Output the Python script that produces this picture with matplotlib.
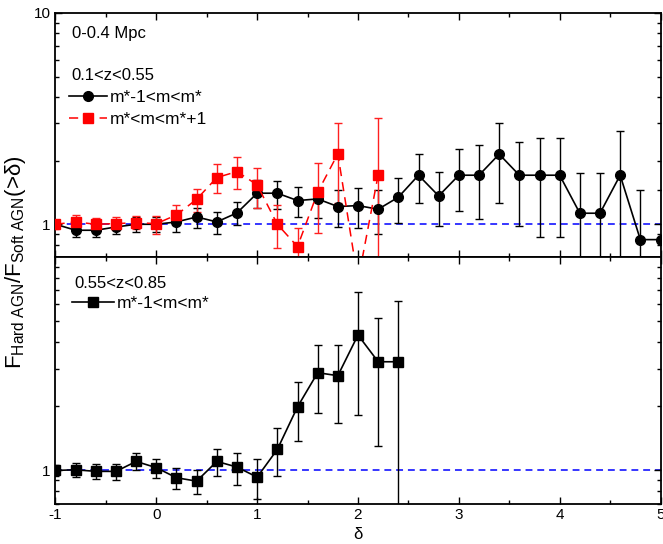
import numpy as np
import matplotlib
matplotlib.use("Agg")
import matplotlib.pyplot as plt
from matplotlib.ticker import LogLocator, NullFormatter, FixedLocator, FixedFormatter, MultipleLocator

plt.rcParams['font.family'] = ['Liberation Sans', 'DejaVu Sans']
plt.rcParams['mathtext.fontset'] = 'custom'
plt.rcParams['mathtext.rm'] = 'Liberation Sans'
plt.rcParams['mathtext.it'] = 'Liberation Sans:italic'
plt.rcParams['mathtext.default'] = 'regular'

# ---------------- data ----------------
delta_top_black = [-1.0, -0.8, -0.6, -0.4, -0.2, 0.0, 0.2, 0.4, 0.6, 0.8, 1.0, 1.2, 1.4, 1.6, 1.8,
                   2.0, 2.2, 2.4, 2.6, 2.8, 3.0, 3.2, 3.4, 3.6, 3.8, 4.0, 4.2, 4.4, 4.6, 4.8, 5.0]
ratio_top_black = [1.00, 0.937, 0.937, 0.971, 1.00, 1.00, 1.026, 1.083, 1.026, 1.132, 1.403, 1.403, 1.295, 1.318, 1.213,
                   1.226, 1.178, 1.343, 1.707, 1.362, 1.707, 1.707, 2.147, 1.707, 1.707, 1.707, 1.128, 1.128, 1.707, 0.846, 0.846]
upper_top_black = [1.04, 1.00, 1.00, 1.045, 1.08, 1.08, 1.144, 1.20, 1.144, 1.276, 1.62, 1.61, 1.497, 1.45, 1.45,
                   1.49, 1.45, 1.664, 2.16, 1.76, 2.26, 2.36, 3.02, 2.44, 2.56, 2.56, 1.745, 1.745, 2.75, 1.45, 1.45]
lower_top_black = [0.96, 0.87, 0.87, 0.903, 0.92, 0.92, 0.92, 0.964, 0.903, 0.989, 1.19, 1.18, 1.079, 1.07, 0.968,
                   0.965, 0.90, 1.014, 1.267, 0.978, 1.156, 1.056, 1.267, 0.978, 0.871, 0.871, 0.60, 0.60, 0.60, 0.60, 0.60]

delta_top_red = [-1.0, -0.8, -0.6, -0.4, -0.2, 0.0, 0.2, 0.4, 0.6, 0.8, 1.0, 1.2, 1.4, 1.6, 1.8, 2.0, 2.2]
ratio_top_red = [1.00, 1.026, 1.00, 1.007, 1.018, 1.007, 1.107, 1.314, 1.664, 1.776, 1.536, 1.00, 0.784, 1.418, 2.154, 0.54, 1.714]
upper_top_red = [1.05, 1.11, 1.07, 1.08, 1.09, 1.095, 1.235, 1.47, 1.923, 2.09, 1.842, 1.235, 0.96, 1.946, 3.02, 0.65, 3.17]
lower_top_red = [0.95, 0.964, 0.937, 0.94, 0.945, 0.903, 0.993, 1.148, 1.413, 1.465, 1.20, 0.77, 0.60, 0.913, 1.26, 0.45, 0.60]

delta_bot = [-1.0, -0.8, -0.6, -0.4, -0.2, 0.0, 0.2, 0.4, 0.6, 0.8, 1.0, 1.2, 1.4, 1.6, 1.8, 2.0, 2.2, 2.4]
ratio_bot = [1.00, 1.007, 0.99, 0.99, 1.102, 1.03, 0.924, 0.891, 1.102, 1.037, 0.93, 1.255, 1.985, 2.87, 2.78, 4.31, 3.23, 3.23]
upper_bot = [1.06, 1.08, 1.075, 1.067, 1.21, 1.13, 1.03, 1.00, 1.26, 1.21, 1.127, 1.58, 2.60, 3.87, 3.87, 6.82, 5.17, 6.25]
lower_bot = [0.94, 0.93, 0.914, 0.904, 1.007, 0.924, 0.82, 0.777, 0.937, 0.856, 0.736, 0.94, 1.37, 1.86, 1.66, 1.81, 1.30, 0.50]

label_black = 'm*-1<m<m*'
label_red = 'm*<m<m*+1'
x_ticks = [-1, 0, 1, 2, 3, 4, 5]

# ---------------- figure ----------------
W, H = 663, 544
fig = plt.figure(figsize=(W / 100, H / 100), dpi=100)
left, right = 55.5 / W, 660.5 / W
ax1 = fig.add_axes([left, 1 - 257 / H, right - left, (257 - 13) / H])
ax2 = fig.add_axes([left, 1 - 503.5 / H, right - left, (503.5 - 257) / H])


def yerr(r, lo, up):
    r = np.asarray(r); lo = np.asarray(lo); up = np.asarray(up)
    return np.vstack([r - lo, up - r])


for ax in (ax1, ax2):
    ax.set_yscale('log')
    ax.set_ylim(0.7, 10)
    ax.set_xlim(-1, 5)
    ax.axhline(1.0, color='#0000ff', lw=1.1, ls=(0, (4.5, 3.2)), zorder=1)
    ax.xaxis.set_major_locator(FixedLocator(x_ticks))
    ax.xaxis.set_minor_locator(MultipleLocator(0.5))
    ax.yaxis.set_minor_locator(LogLocator(base=10, subs=np.arange(2, 10)))
    ax.yaxis.set_minor_formatter(NullFormatter())
    ax.tick_params(which='both', direction='in', top=True, right=True, labelsize=11, width=1.0)
    ax.tick_params(which='major', length=5)
    ax.tick_params(which='minor', length=3)
    for s in ax.spines.values():
        s.set_linewidth(1.3)

# top panel
ax1.errorbar(delta_top_black, ratio_top_black, yerr=yerr(ratio_top_black, lower_top_black, upper_top_black),
             fmt='none', ecolor='black', elinewidth=1.0, capsize=3, capthick=1.0, zorder=3)
l1, = ax1.plot(delta_top_black, ratio_top_black, color='black', lw=1.2, marker='o', ms=7,
               label=label_black, zorder=4)
ax1.errorbar(delta_top_red, ratio_top_red, yerr=yerr(ratio_top_red, lower_top_red, upper_top_red),
             fmt='none', ecolor='#ff2020', elinewidth=1.0, capsize=3, capthick=1.0, zorder=3)
l2, = ax1.plot(delta_top_red, ratio_top_red, color='#ff0000', lw=1.1, ls=(0, (6, 4)), marker='s', ms=6.5,
               label=label_red, zorder=4)
ax1.yaxis.set_major_locator(FixedLocator([1, 10]))
ax1.yaxis.set_major_formatter(FixedFormatter(['1', '10']))
ax1.tick_params(labelbottom=False)

ax1.text(0.027, 0.914, '0-0.4 Mpc', transform=ax1.transAxes, ha='left', va='center', fontsize=12)
ax1.text(0.027, 0.742, '0.1<z<0.55', transform=ax1.transAxes, ha='left', va='center', fontsize=12)
ax1.legend(handles=[l1, l2], loc='upper left', bbox_to_anchor=(0.022, 0.686), frameon=False,
           fontsize=12.5, handlelength=2.2, handletextpad=0.15, labelspacing=0.39, borderpad=0,
           borderaxespad=0, numpoints=1)

# bottom panel
ax2.errorbar(delta_bot, ratio_bot, yerr=yerr(ratio_bot, lower_bot, upper_bot),
             fmt='none', ecolor='black', elinewidth=1.0, capsize=3, capthick=1.0, zorder=3)
l3, = ax2.plot(delta_bot, ratio_bot, color='black', lw=1.2, marker='s', ms=6.5, label=label_black, zorder=4)
ax2.yaxis.set_major_locator(FixedLocator([1]))
ax2.yaxis.set_major_formatter(FixedFormatter(['1']))
ax2.xaxis.set_major_formatter(FixedFormatter([str(t) for t in x_ticks]))
ax2.set_xlabel('δ', fontsize=12, labelpad=3)

ax2.text(0.032, 0.893, '0.55<z<0.85', transform=ax2.transAxes, ha='left', va='center', fontsize=12)
ax2.legend(handles=[l3], loc='upper left', bbox_to_anchor=(0.028, 0.843), frameon=False,
           fontsize=12.5, handlelength=2.4, handletextpad=0.15, borderpad=0, borderaxespad=0, numpoints=1)

fig.text(16 / W, 1 - 262 / H, r'F$_{Hard\ AGN}$/F$_{Soft\ AGN}$(>δ)', rotation=90,
         ha='center', va='center', fontsize=16)

fig.savefig('out.png', dpi=100)
